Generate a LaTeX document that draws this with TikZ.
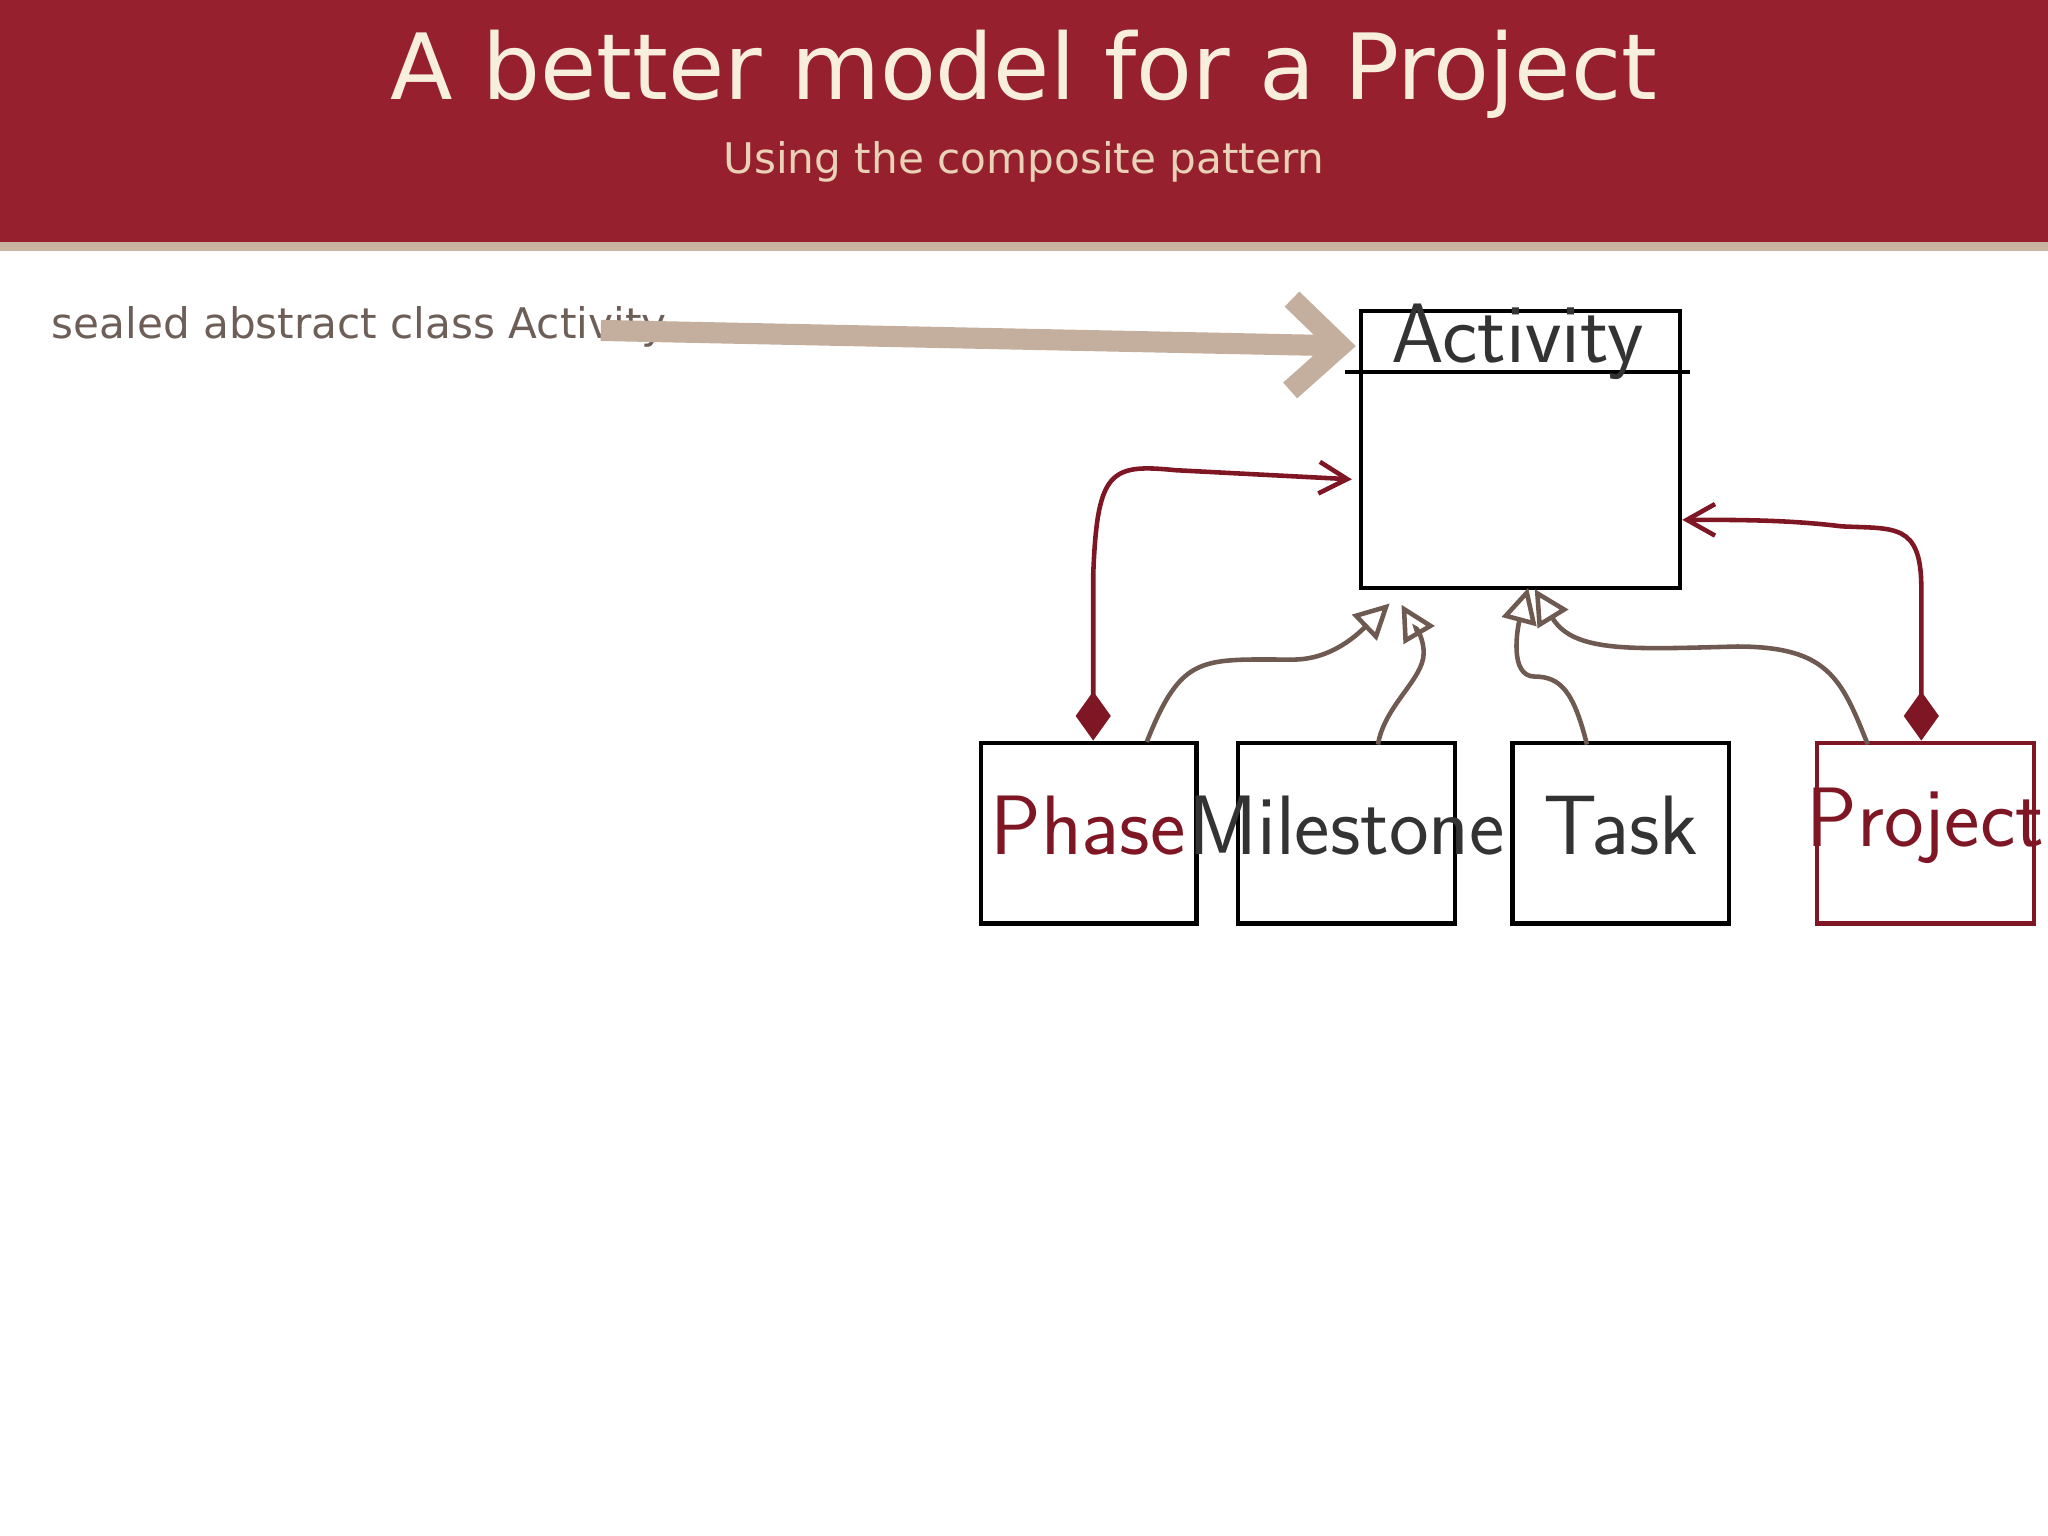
\documentclass[tikz,border=0pt]{standalone}
\usepackage{fontspec}
\setmainfont{DejaVu Sans}
\usetikzlibrary{arrows.meta}
\definecolor{hdr}{HTML}{96202D}
\definecolor{strip}{HTML}{C8B4A0}
\definecolor{sub}{HTML}{EAD2B8}
\definecolor{ttl}{HTML}{F8EEDC}
\definecolor{gray1}{HTML}{6E5E58}
\definecolor{brn}{HTML}{6E5A50}
\definecolor{dred}{HTML}{7E1624}
\definecolor{tan}{HTML}{C4AE9E}
\begin{document}
\begin{tikzpicture}[x=0.01306cm,y=-0.01306cm,
  cls/.style={draw=black,line width=1.2pt,minimum width=165\pgflinewidth,inner sep=0},
  lbl/.style={font=\fontsize{24}{28}\selectfont\sffamily},
  gen/.style={draw=brn,line width=1.3pt,-{Triangle[open,length=10pt,width=10pt]}},
  comp/.style={draw=dred,line width=1.3pt,{Diamond[length=14pt,width=10pt]}-{Straight Barb[length=8pt,width=9pt]}}]
\useasboundingbox (0,0) rectangle (1568,1176);
\fill[hdr] (0,0) rectangle (1568,185);
\fill[strip] (0,185) rectangle (1568,192);
\node[text=ttl,font=\fontsize{26}{30}\selectfont] (title) at (784,57) {A better model for a Project};
\node[text=sub,font=\fontsize{12}{14}\selectfont] (subtitle) at (784,124) {Using the composite pattern};
\node[text=gray1,font=\fontsize{12}{14}\selectfont,anchor=west] (note) at (30,250) {sealed abstract class Activity};
% boxes
\draw[line width=1.2pt] (1042,238) rectangle (1286,450);
\draw[line width=1.2pt] (1030,285) -- (1294,285);
\coordinate (actA) at (1042,238);
\node[lbl,text=black!80] (actlbl) at (1162,262) {Activity};
\draw[line width=1.2pt] (751,569) rectangle (916,707);
\node[lbl,text=dred] (phase) at (833,632) {Phase};
\draw[line width=1.2pt] (948,569) rectangle (1114,707);
\node[lbl,text=black!80] (mile) at (1031,632) {Milestone};
\draw[line width=1.2pt] (1158,569) rectangle (1324,707);
\node[lbl,text=black!80] (task) at (1241,632) {Task};
\draw[line width=1.2pt,draw=dred] (1391,569) rectangle (1557,707);
\node[lbl,text=dred] (proj) at (1474,632) {Project};
% coordinates
\coordinate (pd) at (837,567);
\coordinate (pa) at (1035,367);
\coordinate (jd) at (1471,567);
\coordinate (ja) at (1288,398);
% composition
\draw[comp] (pd) -- (837,440) .. controls (840,360) and (850,355) .. (900,360) -- (pa);
\draw[comp] (jd) -- (1471,450) .. controls (1471,400) and (1450,405) .. (1410,403) .. controls (1370,398) and (1330,398) .. (ja);
% generalization
\draw[gen] (878,568) .. controls (905,500) and (920,505) .. (990,505) .. controls (1020,505) and (1040,485) .. (1064,462);
\draw[gen] (1055,570) .. controls (1060,540) and (1090,520) .. (1090,500) .. controls (1090,485) and (1080,475) .. (1073,463);
\draw[gen] (1215,570) .. controls (1205,530) and (1195,518) .. (1175,518) .. controls (1155,518) and (1162,480) .. (1170,450);
\draw[gen] (1430,570) .. controls (1410,520) and (1400,495) .. (1330,495) .. controls (1250,497) and (1205,500) .. (1175,451);
% brush arrow
\draw[tan,line width=6pt,-{Straight Barb[length=14pt,width=26pt]}] (460,253) -- (1038,265);
\end{tikzpicture}
\end{document}
